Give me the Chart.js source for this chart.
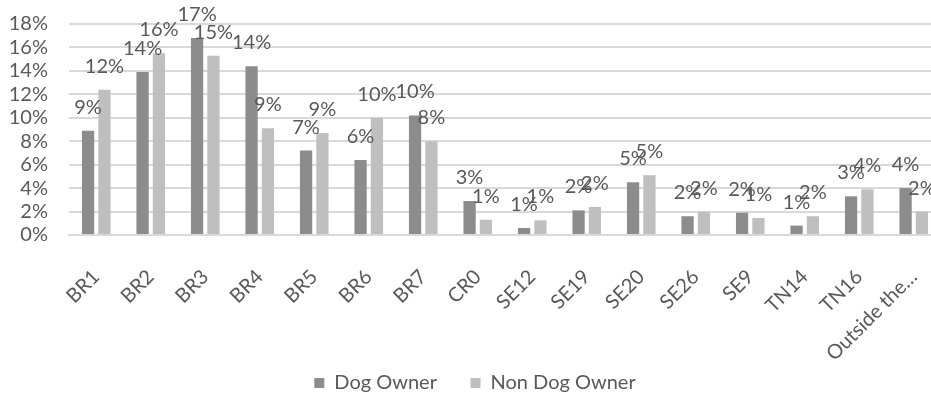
<!DOCTYPE html>
<html>
<head>
<meta charset="utf-8">
<script src="https://cdn.jsdelivr.net/npm/chart.js@4"></script>
<style>
  html, body { margin: 0; padding: 0; background: #fff; overflow: hidden; }
  #wrap { width: 941px; height: 403px; }
</style>
</head>
<body>
<div id="wrap"><canvas id="chart"></canvas></div>
<script>
const categories = ['BR1', 'BR2', 'BR3', 'BR4', 'BR5', 'BR6', 'BR7', 'CR0',
  'SE12', 'SE19', 'SE20', 'SE26', 'SE9', 'TN14', 'TN16', 'Outside the\u2026']
const dogOwner    = [8.9, 13.9, 16.8, 14.4, 7.2, 6.4, 10.2, 2.9, 0.6, 2.1, 4.5, 1.6, 1.9, 0.8, 3.3, 4.0]
const nonDogOwner = [12.4, 15.5, 15.3, 9.1, 8.7, 10.0, 8.0, 1.3, 1.25, 2.4, 5.1, 2.0, 1.45, 1.6, 3.9, 2.0]
const yTicks = [0, 2, 4, 6, 8, 10, 12, 14, 16, 18]

const FONT = 'Lato, "Open Sans", sans-serif'
const TEXT = '#595959'
const SIZE = 20

// value labels above each bar, Excel style
const barLabels = {
  id: 'barLabels',
  afterDatasetsDraw(chart) {
    const { ctx } = chart
    ctx.save()
    ctx.font = `${SIZE}px ${FONT}`
    ctx.fillStyle = TEXT
    ctx.textAlign = 'center'
    ctx.textBaseline = 'alphabetic'
    chart.data.datasets.forEach((ds, i) => {
      chart.getDatasetMeta(i).data.forEach((bar, j) => {
        ctx.fillText(Math.round(ds.data[j]) + '%', bar.x, bar.y - 17)
      })
    })
    ctx.restore()
  },
}

new Chart(document.getElementById('chart'), {
  type: 'bar',
  data: {
    labels: categories,
    datasets: [
      { label: 'Dog Owner', data: dogOwner, backgroundColor: '#8c8c8c' },
      { label: 'Non Dog Owner', data: nonDogOwner, backgroundColor: '#bfbfbf' },
    ],
  },
  options: {
    responsive: true,
    maintainAspectRatio: false,
    animation: false,
    categoryPercentage: 0.6,
    barPercentage: 0.75,
    layout: { padding: { top: 5, left: 9, right: 0, bottom: 0 } },
    plugins: {
      tooltip: { enabled: false },
      legend: {
        position: 'bottom',
        labels: {
          color: TEXT,
          font: { family: FONT, size: SIZE },
          boxWidth: 10,
          boxHeight: 10,
          padding: 8,
          generateLabels: (chart) => {
            const items = Chart.defaults.plugins.legend.labels.generateLabels(chart)
            // wider gap between the two entries, as in the original
            items.forEach((it, i) => { if (i < items.length - 1) it.text += '     ' })
            return items
          },
        },
      },
    },
    scales: {
      x: {
        grid: { display: false },
        border: { color: '#d9d9d9', width: 2 },
        ticks: {
          color: TEXT,
          font: { family: FONT, size: SIZE },
          minRotation: 45,
          maxRotation: 45,
          autoSkip: false,
          padding: 22,
        },
        afterFit: (scale) => {
          scale.paddingLeft = 0
          scale.paddingRight = 0
          scale.height = 130
        },
      },
      y: {
        min: 0,
        max: 18,
        afterBuildTicks: (axis) => { axis.ticks = yTicks.map(v => ({ value: v })) },
        grid: { color: '#d9d9d9', lineWidth: 2, drawTicks: false },
        border: { display: false },
        ticks: {
          color: TEXT,
          font: { family: FONT, size: SIZE },
          autoSkip: false,
          padding: 21,
          callback: (v) => v + '%',
        },
        afterFit: (scale) => {
          scale.width = 60
          scale.paddingTop = 24
          scale.paddingBottom = 12
        },
      },
    },
  },
  plugins: [barLabels],
})
</script>
</body>
</html>
